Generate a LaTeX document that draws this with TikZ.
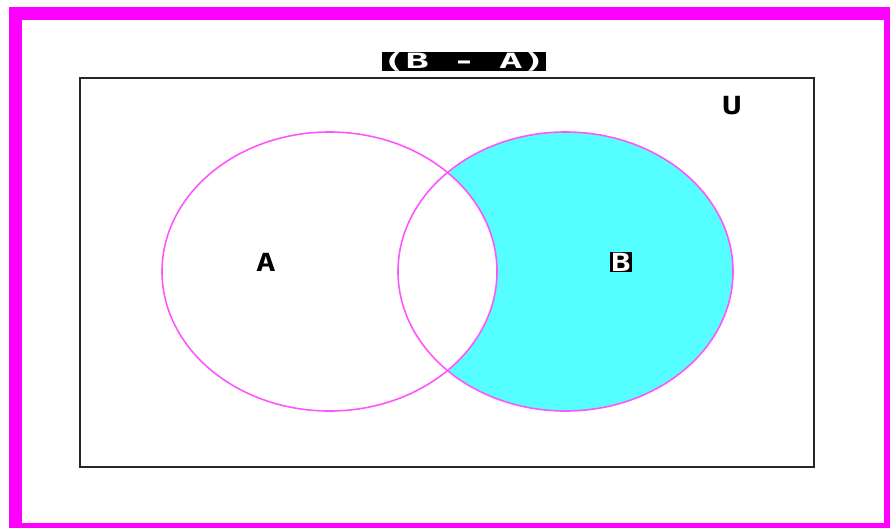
\documentclass[tikz,border=0pt]{standalone}
\usepackage{fontspec}
\usepackage{graphicx}
\setmainfont{DejaVu Sans Mono}
\definecolor{frame}{HTML}{FF00FF}
\definecolor{ring}{HTML}{FF55FF}
\definecolor{cyanfill}{HTML}{55FFFF}
\tikzset{
  setlabel/.style={font=\bfseries\fontsize{25}{25}\selectfont, inner sep=1pt},
  ringline/.style={draw=ring, line width=1.6pt}
}
\begin{document}
\begin{tikzpicture}[x=1pt,y=-1pt]
\useasboundingbox (0,0) rectangle (890,528);
\fill[white] (0,0) rectangle (890,528);
\fill[frame] (9,7) rectangle (890,528);
\fill[white] (22,20) rectangle (884,523);
% universe
\node[draw=black!85, line width=2.2pt, minimum width=734pt, minimum height=389pt, inner sep=0pt, anchor=north west] (U) at (79,77) {};
% shaded B - A
\begin{scope}
  \clip (565.5,271.5) ellipse [x radius=167.5, y radius=139.5];
  \fill[cyanfill] (0,0) rectangle (890,528);
  \fill[white] (329.5,271.5) ellipse [x radius=167.5, y radius=139.5];
\end{scope}
\draw[ringline] (329.5,271.5) ellipse [x radius=167.5, y radius=139.5];
\draw[ringline] (565.5,271.5) ellipse [x radius=167.5, y radius=139.5];
% labels
\node[fill=black, text=white, font=\bfseries\fontsize{21}{21}\selectfont, minimum width=158pt, minimum height=19pt, inner sep=0pt] (title) at (464,61.5) {\scalebox{1.85}[1]{(B - A)}};
\node[setlabel] (ulab) at (732,106) {\scalebox{1.3}[1]{U}};
\node[setlabel] (alab) at (266,262) {\scalebox{1.3}[1]{A}};
\node[setlabel, fill=black, text=white] (blab) at (621,262) {\scalebox{1.3}[1]{B}};
\end{tikzpicture}
\end{document}
